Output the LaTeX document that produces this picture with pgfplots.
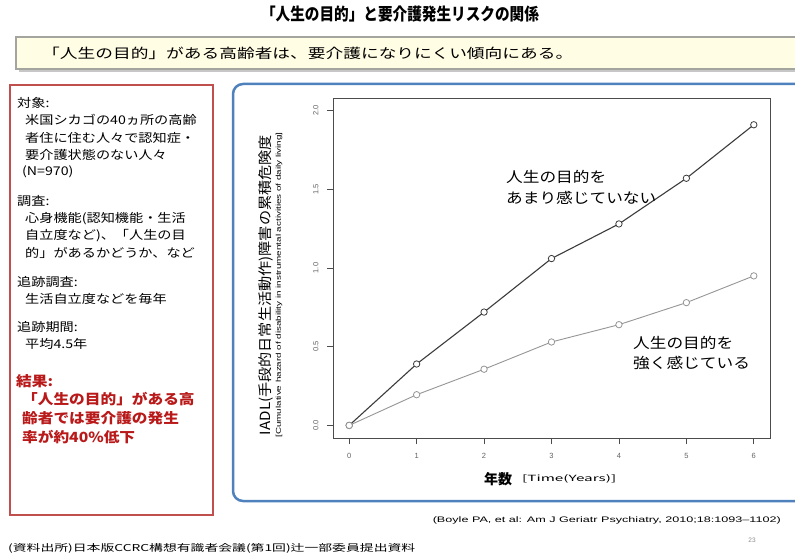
\documentclass[border=0pt]{standalone}
\usepackage{fontspec}
\setmainfont{Noto Sans CJK JP}
\newfontfamily\arial{Liberation Sans}
\usepackage{graphicx}
\usepackage{pgfplots}
\pgfplotsset{compat=1.18}

\definecolor{redbox}{RGB}{192,80,77}
\definecolor{bluebox}{RGB}{79,129,189}
\definecolor{redtext}{RGB}{185,25,25}
\definecolor{subfill}{RGB}{255,253,228}
\definecolor{subedge}{RGB}{165,165,160}
\definecolor{upline}{RGB}{60,60,60}
\definecolor{lowline}{RGB}{150,150,150}
\definecolor{tickgray}{RGB}{100,100,100}

% horizontal stretch of the slide text
\newcommand{\sx}[2]{\scalebox{#1}[1]{#2}}
\newcommand{\fs}[1]{\fontsize{#1}{#1}\selectfont}

\begin{document}
\begin{tikzpicture}
\path[use as bounding box] (0pt,0pt) rectangle (795pt,-556pt);
\begin{scope}[x=1pt,y=-1pt]
  \fill[white] (0,0) rectangle (795,556);
  \draw[bluebox, line width=2.5pt, rounded corners=10pt, fill=white] (233,84) rectangle (815,501);
  \draw[redbox, line width=2pt] (10,85) rectangle (213,515);
  \fill[black!22] (19,40) rectangle (815,72);
  \draw[subedge, line width=1.8pt, fill=subfill] (16,37) rectangle (815,69);
\end{scope}

\begin{axis}[
  at={(333pt,-98pt)}, anchor=north west,
  scale only axis, width=437pt, height=340pt,
  xmin=-0.24, xmax=6.24, ymin=-0.08, ymax=2.08,
  axis line style={draw=black!70, line width=0.9pt},
  xtick={0,1,...,6}, ytick={0,0.5,1,1.5,2},
  xtick pos=left, ytick pos=left,
  tick align=outside, major tick length=6pt,
  tick style={black!70, line width=0.8pt},
  ticklabel style={font=\arial\fs{7.5}, text=tickgray},
  /pgf/number format/assume math mode=true,
  xticklabel shift=6pt,
  yticklabel shift=5pt,
  yticklabel style={rotate=90, anchor=south,
    /pgf/number format/.cd, fixed, fixed zerofill, precision=1},
]
\addplot[upline, line width=1.1pt, mark=*, mark size=3.2pt,
  mark options={fill=white, draw=upline, line width=0.8pt}]
  coordinates {(0,0) (1,0.39) (2,0.72) (3,1.06) (4,1.28) (5,1.57) (6,1.91)};
\addplot[lowline, line width=0.9pt, mark=*, mark size=3.2pt,
  mark options={fill=white, draw=lowline, line width=0.8pt}]
  coordinates {(0,0) (1,0.195) (2,0.357) (3,0.53) (4,0.64) (5,0.78) (6,0.95)};
\end{axis}

\begin{scope}[x=1pt,y=-1pt, every node/.style={inner sep=0pt}]
  % title and subtitle
  \node at (400,14) {\resizebox{278pt}{\height}{\bfseries\fs{17}「人生の目的」と要介護発生リスクの関係}};
  \node[anchor=west] at (42,53) {\resizebox{531pt}{\height}{\fs{13.5}「人生の目的」がある高齢者は、要介護になりにくい傾向にある。}};

  % left box
  \begin{scope}[every node/.style={anchor=west, inner sep=0pt, font=\fs{12}}]
    \node at (17,103) {\sx{1.18}{対象:}};
    \node at (25,120) {\sx{1.18}{米国シカゴの40ヵ所の高齢}};
    \node at (25,138) {\sx{1.18}{者住に住む人々で認知症・}};
    \node at (25,155) {\sx{1.18}{要介護状態のない人々}};
    \node at (22,172) {\sx{1.18}{(N=970)}};
    \node at (17,201) {\sx{1.18}{調査:}};
    \node at (25,219) {\sx{1.18}{心身機能(認知機能・生活}};
    \node at (25,236) {\sx{1.18}{自立度など)、「人生の目}};
    \node at (25,253) {\sx{1.18}{的」があるかどうか、など}};
    \node at (17,282) {\sx{1.18}{追跡調査:}};
    \node at (25,299) {\sx{1.18}{生活自立度などを毎年}};
    \node at (17,327) {\sx{1.18}{追跡期間:}};
    \node at (25,344) {\sx{1.18}{平均4.5年}};
  \end{scope}
  \begin{scope}[every node/.style={anchor=west, inner sep=0pt, text=redtext, font=\bfseries\fs{14}}]
    \node at (16,381) {\sx{1.12}{結果:}};
    \node at (22,399) {\sx{1.12}{「人生の目的」がある高}};
    \node at (22,418) {\sx{1.12}{齢者では要介護の発生}};
    \node at (22,437) {\sx{1.12}{率が約40\%低下}};
  \end{scope}

  % axis titles
  \node[rotate=90] at (266,285) {\resizebox{300pt}{\height}{\fs{14}IADL(手段的日常生活動作)障害の累積危険度}};
  \node[rotate=90] at (279,285) {\resizebox{305pt}{\height}{\arial\fs{7}[Cumulative hazard of disability in instrumental activities of daily living]}};
  \node at (498,479) {\bfseries\fs{14}年数};
  \node[anchor=west] at (522,479) {\resizebox{94pt}{\height}{\fs{8.5}[Time(Years)]}};

  % line annotations
  \node[anchor=west] at (506,177) {\sx{1.15}{\fs{14.5}人生の目的を}};
  \node[anchor=west] at (506,198) {\sx{1.15}{\fs{14.5}あまり感じていない}};
  \node[anchor=west] at (633,343) {\sx{1.15}{\fs{14.5}人生の目的を}};
  \node[anchor=west] at (633,363) {\sx{1.15}{\fs{14.5}強く感じている}};

  % sources
  \node[anchor=east] at (781,520) {\resizebox{348pt}{\height}{\arial\fs{8}(Boyle PA, et al: Am J Geriatr Psychiatry, 2010;18:1093–1102)}};
  \node at (752,540) {\arial\fs{6.5}\textcolor{black!45}{23}};
  \node[anchor=west] at (8,548) {\resizebox{407pt}{\height}{\fs{9.5}(資料出所)日本版CCRC構想有識者会議(第1回)辻一部委員提出資料}};
\end{scope}
\end{tikzpicture}
\end{document}
